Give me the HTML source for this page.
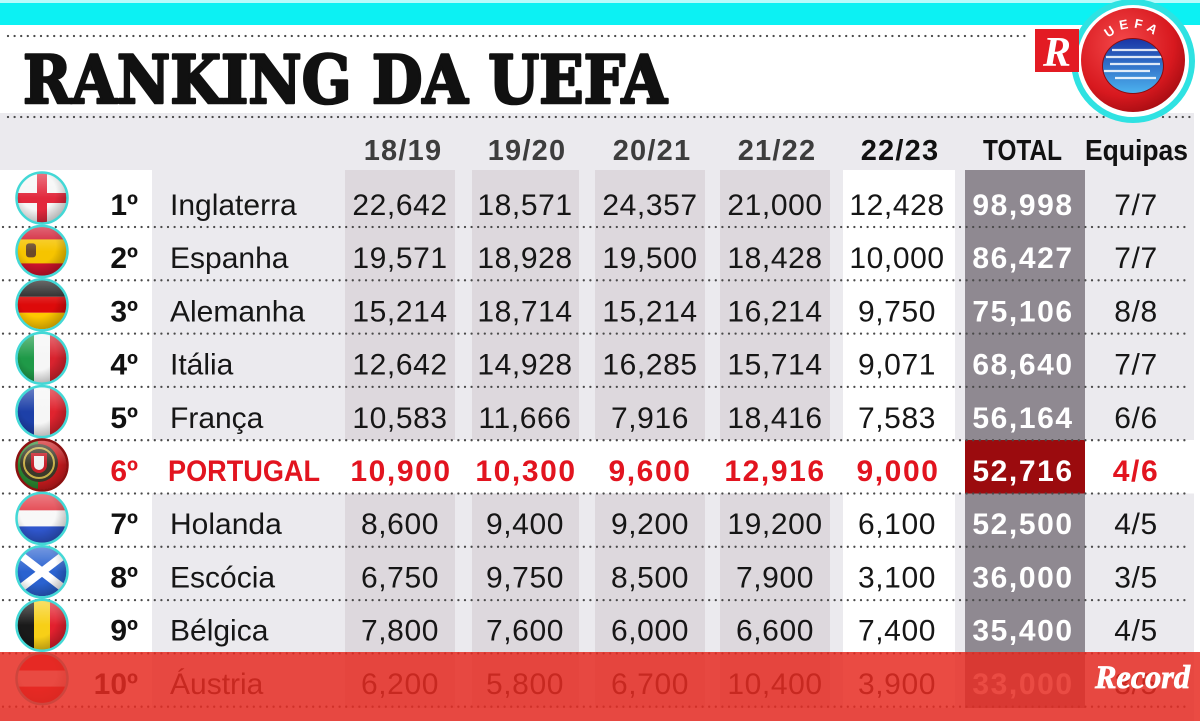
<!DOCTYPE html>
<html><head><meta charset="utf-8"><style>
html,body{margin:0;padding:0;background:#fff;width:1200px;height:721px;overflow:hidden}
svg{display:block}
.n{font-family:"Liberation Sans",Arial,sans-serif;font-size:30px;fill:#161616;text-anchor:middle;letter-spacing:0.6px}
.nm{font-family:"Liberation Sans",Arial,sans-serif;font-size:30px;fill:#161616}
.rk{font-family:"Liberation Sans",Arial,sans-serif;font-size:30px;font-weight:bold;fill:#111;text-anchor:end}
.tot{font-family:"Liberation Sans",Arial,sans-serif;font-size:30px;font-weight:bold;fill:#fff;text-anchor:middle;letter-spacing:1.6px}
.pt{font-family:"Liberation Sans",Arial,sans-serif;font-size:30px;font-weight:bold;fill:#e2141f;text-anchor:middle;letter-spacing:1.6px}
.hd{font-family:"Liberation Sans",Arial,sans-serif;font-size:29px;font-weight:bold;fill:#3d3d3d;text-anchor:middle;letter-spacing:1.2px}
.dot{stroke:#4a4a4a;stroke-width:2.3;stroke-linecap:round;stroke-dasharray:0 6.6}
</style></head><body>
<svg width="1200" height="721" viewBox="0 0 1200 721" xmlns="http://www.w3.org/2000/svg">
<defs>
<clipPath id="fc"><circle cx="0" cy="0" r="24.5"/></clipPath>
<radialGradient id="sh" cx="0.42" cy="0.38" r="0.65">
<stop offset="0.55" stop-color="#000" stop-opacity="0"/>
<stop offset="1" stop-color="#000" stop-opacity="0.28"/>
</radialGradient>
<linearGradient id="gl" x1="0" y1="0" x2="0" y2="1">
<stop offset="0" stop-color="#fff" stop-opacity="0.35"/>
<stop offset="0.5" stop-color="#fff" stop-opacity="0"/>
</linearGradient>
<radialGradient id="ball" cx="0.4" cy="0.35" r="0.7">
<stop offset="0" stop-color="#f4484a"/>
<stop offset="0.7" stop-color="#d8191f"/>
<stop offset="1" stop-color="#a50c12"/>
</radialGradient>
<linearGradient id="blu" x1="0" y1="0" x2="0" y2="1">
<stop offset="0" stop-color="#1a36a6"/>
<stop offset="1" stop-color="#4cb2ee"/>
</linearGradient>
<clipPath id="ec"><ellipse cx="1133" cy="66" rx="30" ry="27"/></clipPath>
<path id="arc" d="M1099,62 A34,34 0 0 1 1167,62"/>
</defs>

<!-- top cyan bar -->
<rect x="0" y="0" width="1200" height="25" fill="#0cf1f3"/>
<rect x="0" y="0" width="1200" height="3" fill="#b8fbfb"/>

<!-- gray table background -->
<rect x="0" y="113" width="1194" height="608" fill="#ebeaee"/>
<rect x="0" y="170" width="152" height="538" fill="#ffffff"/>
<rect x="345" y="170" width="110" height="538" fill="#ddd8dd"/>
<rect x="472" y="170" width="107" height="538" fill="#ddd8dd"/>
<rect x="595" y="170" width="110" height="538" fill="#ddd8dd"/>
<rect x="720" y="170" width="110" height="538" fill="#ddd8dd"/>
<rect x="843" y="170" width="112" height="538" fill="#ffffff"/>
<rect x="965" y="170" width="120" height="538" fill="#8f8991"/>
<rect x="0" y="440" width="1194" height="53.5" fill="#ffffff"/>
<rect x="965" y="440" width="120" height="53.5" fill="#9b0b0e"/>

<!-- dotted lines -->
<line class="dot" x1="8" y1="36" x2="1030" y2="36"/>
<line class="dot" x1="8" y1="117" x2="1190" y2="117"/>
<line class="dot" x1="3" y1="227" x2="1190" y2="227"/>
<line class="dot" x1="3" y1="280.3" x2="1190" y2="280.3"/>
<line class="dot" x1="3" y1="333.6" x2="1190" y2="333.6"/>
<line class="dot" x1="3" y1="386.9" x2="1190" y2="386.9"/>
<line class="dot" x1="3" y1="440.2" x2="1190" y2="440.2"/>
<line class="dot" x1="3" y1="493.5" x2="1190" y2="493.5"/>
<line class="dot" x1="3" y1="546.8" x2="1190" y2="546.8"/>
<line class="dot" x1="3" y1="600.1" x2="1190" y2="600.1"/>
<line class="dot" x1="3" y1="653.4" x2="1190" y2="653.4"/>
<line class="dot" x1="3" y1="706.7" x2="1190" y2="706.7"/>

<!-- title -->
<text x="23" y="103" textLength="644" lengthAdjust="spacingAndGlyphs" font-family="DejaVu Serif, Liberation Serif, serif" font-weight="bold" font-size="66" fill="#111" stroke="#111" stroke-width="2.6" stroke-linejoin="round">RANKING DA UEFA</text>

<!-- UEFA ball -->
<circle cx="1133" cy="61" r="59" fill="#ffffff" stroke="#2fe2e2" stroke-width="6"/>
<circle cx="1133" cy="60" r="52" fill="url(#ball)"/>
<ellipse cx="1133" cy="66" rx="31" ry="28" fill="#8a0a0e"/>
<ellipse cx="1133" cy="66" rx="30" ry="27" fill="url(#blu)"/>
<g clip-path="url(#ec)" stroke="#fff" stroke-width="2.2" opacity="0.85">
<line x1="1112" y1="50" x2="1158" y2="50"/>
<line x1="1106" y1="57" x2="1162" y2="57"/>
<line x1="1110" y1="64" x2="1160" y2="64"/>
<line x1="1104" y1="71" x2="1150" y2="71"/>
<line x1="1115" y1="78" x2="1156" y2="78"/>
</g>
<text font-family="Liberation Sans, sans-serif" font-size="13" font-weight="bold" fill="#fff" letter-spacing="5"><textPath href="#arc" startOffset="50%" text-anchor="middle">UEFA</textPath></text>

<!-- R logo -->
<rect x="1035" y="29" width="44" height="43" fill="#e31b23"/>
<text x="1057" y="66" text-anchor="middle" font-family="Liberation Serif, serif" font-style="italic" font-weight="bold" font-size="42" fill="#fff">R</text>

<!-- header -->
<text class="hd" x="403" y="160">18/19</text>
<text class="hd" x="527" y="160">19/20</text>
<text class="hd" x="652" y="160">20/21</text>
<text class="hd" x="777" y="160">21/22</text>
<text class="hd" x="900" y="160" style="fill:#111">22/23</text>
<text x="983" y="160" textLength="79" lengthAdjust="spacingAndGlyphs" font-family="Liberation Sans, sans-serif" font-size="29" font-weight="bold" fill="#111">TOTAL</text>
<text x="1085" y="160" textLength="103" lengthAdjust="spacingAndGlyphs" font-family="Liberation Sans, sans-serif" font-size="29" font-weight="bold" fill="#111">Equipas</text>

<!-- flags -->
<g transform="translate(42,198)"><g clip-path="url(#fc)">
<rect x="-25" y="-25" width="50" height="50" fill="#f6f6f6"/>
<rect x="-25" y="-5" width="50" height="10" fill="#e2283c"/>
<rect x="-5" y="-25" width="10" height="50" fill="#e2283c"/>
<rect x="-25" y="-25" width="50" height="50" fill="url(#sh)"/><rect x="-25" y="-25" width="50" height="50" fill="url(#gl)"/>
</g><circle r="25.5" fill="none" stroke="#43d8d6" stroke-width="2.5"/></g>
<g transform="translate(42,251.4)"><g clip-path="url(#fc)">
<rect x="-25" y="-25" width="50" height="50" fill="#d0142c"/>
<rect x="-25" y="-12" width="50" height="24" fill="#f6c400"/>
<rect x="-16" y="-8" width="10" height="14" rx="3" fill="#6b4a2a"/>
<rect x="-25" y="-25" width="50" height="50" fill="url(#sh)"/><rect x="-25" y="-25" width="50" height="50" fill="url(#gl)"/>
</g><circle r="25.5" fill="none" stroke="#43d8d6" stroke-width="2.5"/></g>
<g transform="translate(42,304.8)"><g clip-path="url(#fc)">
<rect x="-25" y="-25" width="50" height="17" fill="#1a1a1a"/>
<rect x="-25" y="-8" width="50" height="16" fill="#dd0a0a"/>
<rect x="-25" y="8" width="50" height="17" fill="#ffc800"/>
<rect x="-25" y="-25" width="50" height="50" fill="url(#sh)"/><rect x="-25" y="-25" width="50" height="50" fill="url(#gl)"/>
</g><circle r="25.5" fill="none" stroke="#43d8d6" stroke-width="2.5"/></g>
<g transform="translate(42,358.2)"><g clip-path="url(#fc)">
<rect x="-25" y="-25" width="17" height="50" fill="#1f9a48"/>
<rect x="-8" y="-25" width="16" height="50" fill="#f6f6f6"/>
<rect x="8" y="-25" width="17" height="50" fill="#d9232e"/>
<rect x="-25" y="-25" width="50" height="50" fill="url(#sh)"/><rect x="-25" y="-25" width="50" height="50" fill="url(#gl)"/>
</g><circle r="25.5" fill="none" stroke="#43d8d6" stroke-width="2.5"/></g>
<g transform="translate(42,411.6)"><g clip-path="url(#fc)">
<rect x="-25" y="-25" width="17" height="50" fill="#1d40a8"/>
<rect x="-8" y="-25" width="16" height="50" fill="#f6f6f6"/>
<rect x="8" y="-25" width="17" height="50" fill="#e0232e"/>
<rect x="-25" y="-25" width="50" height="50" fill="url(#sh)"/><rect x="-25" y="-25" width="50" height="50" fill="url(#gl)"/>
</g><circle r="25.5" fill="none" stroke="#43d8d6" stroke-width="2.5"/></g>
<g transform="translate(42,465)"><g clip-path="url(#fc)">
<rect x="-25" y="-25" width="50" height="50" fill="#d01c1f"/>
<rect x="-25" y="-25" width="21" height="50" fill="#2a8a32"/>
<circle cx="-3" cy="-2" r="19" fill="#3a3a2a"/>
<circle cx="-3" cy="-2" r="15" fill="none" stroke="#c9b04a" stroke-width="2"/>
<path d="M-11,-12 h16 v12 a8,8 0 0 1 -16,0 z" fill="#c8202a"/>
<path d="M-8,-9 h10 v9 a5,5 0 0 1 -10,0 z" fill="#f2f2f2"/>
<rect x="-25" y="-25" width="50" height="50" fill="url(#sh)"/><rect x="-25" y="-25" width="50" height="50" fill="url(#gl)"/>
</g><circle r="25.5" fill="none" stroke="#8c1010" stroke-width="2.5"/></g>
<g transform="translate(42,518.4)"><g clip-path="url(#fc)">
<rect x="-25" y="-25" width="50" height="17" fill="#e23a44"/>
<rect x="-25" y="-8" width="50" height="16" fill="#f8f8f8"/>
<rect x="-25" y="8" width="50" height="17" fill="#2f56cc"/>
<rect x="-25" y="-25" width="50" height="50" fill="url(#sh)"/><rect x="-25" y="-25" width="50" height="50" fill="url(#gl)"/>
</g><circle r="25.5" fill="none" stroke="#43d8d6" stroke-width="2.5"/></g>
<g transform="translate(42,571.8)"><g clip-path="url(#fc)">
<rect x="-25" y="-25" width="50" height="50" fill="#2a62d0"/>
<line x1="-26" y1="-20" x2="26" y2="20" stroke="#fff" stroke-width="8"/>
<line x1="-26" y1="20" x2="26" y2="-20" stroke="#fff" stroke-width="8"/>
<rect x="-25" y="-25" width="50" height="50" fill="url(#sh)"/><rect x="-25" y="-25" width="50" height="50" fill="url(#gl)"/>
</g><circle r="25.5" fill="none" stroke="#43d8d6" stroke-width="2.5"/></g>
<g transform="translate(42,625.2)"><g clip-path="url(#fc)">
<rect x="-25" y="-25" width="17" height="50" fill="#1a1a1a"/>
<rect x="-8" y="-25" width="16" height="50" fill="#f7cf17"/>
<rect x="8" y="-25" width="17" height="50" fill="#e3202e"/>
<rect x="-25" y="-25" width="50" height="50" fill="url(#sh)"/><rect x="-25" y="-25" width="50" height="50" fill="url(#gl)"/>
</g><circle r="25.5" fill="none" stroke="#43d8d6" stroke-width="2.5"/></g>
<g transform="translate(42,678.6)"><g clip-path="url(#fc)">
<rect x="-25" y="-25" width="50" height="17" fill="#e0202e"/>
<rect x="-25" y="-8" width="50" height="16" fill="#f8f8f8"/>
<rect x="-25" y="8" width="50" height="17" fill="#e0202e"/>
<rect x="-25" y="-25" width="50" height="50" fill="url(#sh)"/>
</g><circle r="25.5" fill="none" stroke="#43d8d6" stroke-width="2.5"/></g>

<!-- rows -->
<g>
<text class="rk" x="138" y="215">1º</text><text class="nm" x="170" y="215">Inglaterra</text>
<text class="n" x="400" y="215">22,642</text><text class="n" x="525" y="215">18,571</text><text class="n" x="650" y="215">24,357</text><text class="n" x="775" y="215">21,000</text><text class="n" x="897" y="215">12,428</text><text class="tot" x="1023" y="215">98,998</text><text class="n" x="1136" y="215">7/7</text>

<text class="rk" x="138" y="268.2">2º</text><text class="nm" x="170" y="268.2">Espanha</text>
<text class="n" x="400" y="268.2">19,571</text><text class="n" x="525" y="268.2">18,928</text><text class="n" x="650" y="268.2">19,500</text><text class="n" x="775" y="268.2">18,428</text><text class="n" x="897" y="268.2">10,000</text><text class="tot" x="1023" y="268.2">86,427</text><text class="n" x="1136" y="268.2">7/7</text>

<text class="rk" x="138" y="321.4">3º</text><text class="nm" x="170" y="321.4">Alemanha</text>
<text class="n" x="400" y="321.4">15,214</text><text class="n" x="525" y="321.4">18,714</text><text class="n" x="650" y="321.4">15,214</text><text class="n" x="775" y="321.4">16,214</text><text class="n" x="897" y="321.4">9,750</text><text class="tot" x="1023" y="321.4">75,106</text><text class="n" x="1136" y="321.4">8/8</text>

<text class="rk" x="138" y="374.6">4º</text><text class="nm" x="170" y="374.6">Itália</text>
<text class="n" x="400" y="374.6">12,642</text><text class="n" x="525" y="374.6">14,928</text><text class="n" x="650" y="374.6">16,285</text><text class="n" x="775" y="374.6">15,714</text><text class="n" x="897" y="374.6">9,071</text><text class="tot" x="1023" y="374.6">68,640</text><text class="n" x="1136" y="374.6">7/7</text>

<text class="rk" x="138" y="427.8">5º</text><text class="nm" x="170" y="427.8">França</text>
<text class="n" x="400" y="427.8">10,583</text><text class="n" x="525" y="427.8">11,666</text><text class="n" x="650" y="427.8">7,916</text><text class="n" x="775" y="427.8">18,416</text><text class="n" x="897" y="427.8">7,583</text><text class="tot" x="1023" y="427.8">56,164</text><text class="n" x="1136" y="427.8">6/6</text>

<text class="rk" x="138" y="481" style="fill:#e2141f">6º</text>
<text x="168" y="481" textLength="152" lengthAdjust="spacingAndGlyphs" font-family="Liberation Sans, sans-serif" font-size="30" font-weight="bold" fill="#e2141f">PORTUGAL</text>
<text class="pt" x="401" y="481">10,900</text><text class="pt" x="526" y="481">10,300</text><text class="pt" x="650" y="481">9,600</text><text class="pt" x="775" y="481">12,916</text><text class="pt" x="898" y="481">9,000</text><text class="tot" x="1023" y="481">52,716</text><text class="pt" x="1136" y="481">4/6</text>

<text class="rk" x="138" y="534.2">7º</text><text class="nm" x="170" y="534.2">Holanda</text>
<text class="n" x="400" y="534.2">8,600</text><text class="n" x="525" y="534.2">9,400</text><text class="n" x="650" y="534.2">9,200</text><text class="n" x="775" y="534.2">19,200</text><text class="n" x="897" y="534.2">6,100</text><text class="tot" x="1023" y="534.2">52,500</text><text class="n" x="1136" y="534.2">4/5</text>

<text class="rk" x="138" y="587.4">8º</text><text class="nm" x="170" y="587.4">Escócia</text>
<text class="n" x="400" y="587.4">6,750</text><text class="n" x="525" y="587.4">9,750</text><text class="n" x="650" y="587.4">8,500</text><text class="n" x="775" y="587.4">7,900</text><text class="n" x="897" y="587.4">3,100</text><text class="tot" x="1023" y="587.4">36,000</text><text class="n" x="1136" y="587.4">3/5</text>

<text class="rk" x="138" y="640.6">9º</text><text class="nm" x="170" y="640.6">Bélgica</text>
<text class="n" x="400" y="640.6">7,800</text><text class="n" x="525" y="640.6">7,600</text><text class="n" x="650" y="640.6">6,000</text><text class="n" x="775" y="640.6">6,600</text><text class="n" x="897" y="640.6">7,400</text><text class="tot" x="1023" y="640.6">35,400</text><text class="n" x="1136" y="640.6">4/5</text>

<text class="rk" x="138" y="693.8">10º</text><text class="nm" x="170" y="693.8">Áustria</text>
<text class="n" x="400" y="693.8">6,200</text><text class="n" x="525" y="693.8">5,800</text><text class="n" x="650" y="693.8">6,700</text><text class="n" x="775" y="693.8">10,400</text><text class="n" x="897" y="693.8">3,900</text><text class="tot" x="1023" y="693.8">33,000</text><text class="n" x="1136" y="693.8">3/5</text>
</g>

<!-- red band overlay -->
<rect x="0" y="652" width="1200" height="69" fill="rgb(230,44,34)" fill-opacity="0.85"/>
<text x="1095" y="688" textLength="95" lengthAdjust="spacingAndGlyphs" font-family="Liberation Serif, serif" font-style="italic" font-weight="bold" font-size="33" fill="#ffffff" stroke="#ffffff" stroke-width="0.8">Record</text>
</svg>
</body></html>
